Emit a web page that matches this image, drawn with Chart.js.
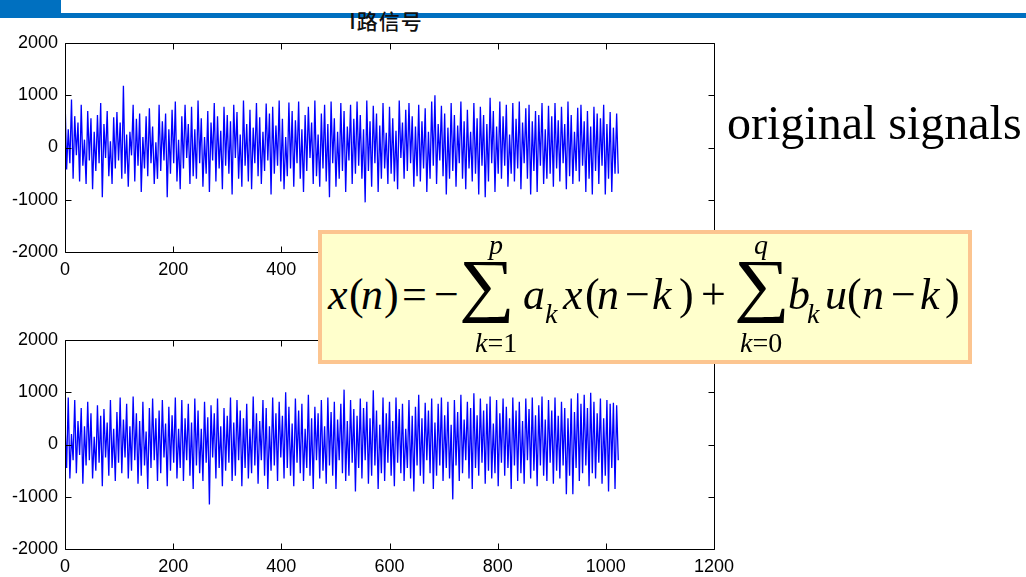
<!DOCTYPE html>
<html>
<head>
<meta charset="utf-8">
<script src="https://cdn.jsdelivr.net/npm/chart.js@4.4.1/dist/chart.umd.min.js"></script>
<style>
  body { margin: 0; width: 1026px; height: 577px; background: #fff; position: relative; overflow: hidden; }
  #barLeft { position: absolute; left: 0; top: 0; width: 61px; height: 18px; background: #0070c0; }
  #bar { position: absolute; left: 61px; top: 13px; width: 965px; height: 5px; background: #0070c0; }
  #title { position: absolute; left: 326px; width: 120px; top: 5px; text-align: center; font: 500 21px "Noto Sans CJK SC"; color: #111; letter-spacing: 1px; }
  .plot { position: absolute; left: 0; }
  #box { position: absolute; left: 318px; top: 230px; width: 646px; height: 126px; border: 4px solid #fcc590; background: #ffffcc; }
  #formula span { position: absolute; white-space: nowrap; line-height: 1; font-family: "Liberation Serif", "Times New Roman", serif; color: #000; transform-origin: 0 0; }
  #orig { position: absolute; left: 727px; top: 99px; font: 48px "Liberation Serif", serif; line-height: 1; color: #000; white-space: nowrap; }
</style>
</head>
<body>
<div id="barLeft"></div>
<div id="bar"></div>
<div id="title">I路信号</div>
<canvas id="topChart" class="plot" width="740" height="280" style="top:0"></canvas>
<canvas id="bottomChart" class="plot" width="740" height="287" style="top:290px"></canvas>
<div id="orig">original signals</div>
<div id="box"></div>
<div id="formula"></div>
<script>
const sampleStep = 3;
const xTicks = [0, 200, 400, 600, 800, 1000, 1200];
const yTicks = [-2000, -1000, 0, 1000, 2000];

// top signal, one value every 3 samples
const signalTop = [
  980, -420, 350, -300, 920, -600, 600, -150, 480, -650, 820, -350, 150, -700, 700, -250, 560, -800, 300, -450,
  620, -300, 850, -950, 450, -200, 700, -550, 120, -700, 580, -400, 680, -250, 480, -600, 1180, -500, 250, -750,
  300, -150, 820, -650, 550, -350, 650, -850, 200, -400, 600, -550, 750, -300, 400, -700, 100, -600, 820, -450,
  500, -250, 650, -950, 350, -500, 720, -300, 880, -650, 150, -800, 600, -400, 820, -200, 450, -700, 780, -550,
  350, -600, 900, -300, 560, -750, 200, -500, 700, -850, 480, -250, 850, -650, 600, -400, 320, -800, 780, -350,
  620, -500, 500, -900, 820, -200, 680, -600, 250, -750, 900, -350, 450, -650, 720, -800, 380, -300, 850, -550,
  580, -700, 300, -450, 840, -250, 650, -900, 780, -500, 420, -350, 900, -650, 550, -800, 200, -550, 860, -400,
  700, -750, 520, -300, 880, -600, 350, -850, 620, -450, 780, -200, 480, -700, 900, -550, 250, -750, 650, -400,
  820, -650, 450, -950, 880, -300, 560, -750, 300, -600, 850, -450, 700, -850, 400, -250, 820, -700, 550, -500,
  880, -350, 620, -600, 350, -1050, 900, -450, 500, -750, 800, -300, 650, -850, 420, -600, 850, -400, 280, -700,
  780, -500, 560, -650, 320, -800, 900, -200, 480, -600, 720, -450, 850, -300, 600, -750, 400, -550, 820, -650,
  500, -400, 750, -850, 300, -600, 880, -350, 1000, -700, 450, -250, 800, -550, 650, -900, 380, -600, 850, -450,
  620, -750, 420, -300, 880, -600, 500, -800, 720, -400, 300, -650, 850, -500, 560, -900, 780, -350, 620, -950,
  450, -650, 950, -300, 700, -850, 400, -500, 880, -600, 600, -350, 820, -750, 250, -500, 850, -650, 550, -400,
  880, -800, 480, -300, 750, -600, 820, -900, 500, -450, 700, -850, 620, -350, 850, -700, 350, -600, 800, -500,
  600, -750, 850, -400, 520, -650, 780, -300, 450, -800, 880, -550, 620, -700, 300, -450, 760, -650, 820, -350,
  500, -850, 700, -600, 400, -900, 780, -450, 650, -700, 560, -350, 820, -900, 450, -600, 680, -850, 380, -500,
  650, -500
];

// bottom signal, same sampling
const signalBottom = [
  380, -450, 900, -650, 200, -300, 850, -550, 450, -200, 700, -750, 350, -400, 820, -300, 600, -650, 150, -500,
  750, -350, 550, -800, 680, -250, 420, -600, 850, -450, 300, -700, 620, -350, 900, -550, 480, -250, 780, -650,
  350, -500, 920, -300, 600, -750, 450, -600, 820, -400, 250, -850, 700, -450, 880, -300, 500, -700, 650, -550,
  850, -250, 400, -800, 720, -500, 560, -350, 900, -650, 300, -450, 850, -700, 500, -300, 780, -600, 420, -850,
  880, -400, 650, -550, 300, -700, 820, -350, 520, -1150, 750, -250, 600, -650, 880, -450, 350, -800, 700, -500,
  550, -350, 900, -700, 420, -600, 850, -300, 650, -800, 500, -450, 780, -650, 300, -550, 920, -400, 600, -750,
  450, -300, 850, -600, 700, -850, 350, -500, 900, -400, 600, -700, 820, -250, 550, -650, 1000, -450, 720, -600,
  400, -800, 880, -350, 650, -550, 780, -700, 300, -450, 950, -600, 500, -850, 720, -300, 600, -650, 850, -500,
  350, -750, 900, -400, 620, -600, 820, -850, 480, -300, 780, -550, 1050, -700, 450, -600, 850, -350, 680, -900,
  550, -450, 880, -650, 700, -300, 820, -750, 500, -600, 1040, -400, 650, -850, 380, -550, 900, -700, 600, -350,
  820, -600, 450, -800, 900, -350, 680, -550, 780, -700, 300, -450, 850, -650, 550, -900, 720, -400, 950, -600,
  500, -750, 800, -300, 650, -550, 880, -850, 420, -600, 780, -400, 900, -700, 560, -450, 820, -650, 380, -1050,
  850, -400, 620, -700, 950, -550, 480, -300, 820, -650, 700, -850, 980, -450, 560, -600, 880, -350, 650, -750,
  780, -500, 920, -650, 400, -550, 850, -800, 600, -350, 880, -600, 720, -450, 500, -850, 900, -400, 650, -700,
  820, -550, 450, -750, 880, -300, 680, -650, 900, -500, 560, -800, 750, -400, 920, -600, 480, -700, 850, -350,
  650, -750, 900, -500, 550, -650, 820, -400, 700, -950, 500, -600, 880, -950, 620, -450, 980, -700, 780, -550,
  950, -400, 700, -800, 990, -550, 820, -650, 600, -350, 880, -750, 500, -600, 850, -900, 780, -450, 800, -850,
  750, -300
];

function toPoints(vals) {
  return vals.map((v, i) => ({ x: i * sampleStep, y: v }));
}

// MATLAB style box with inward ticks on all four sides
const matlabAxes = {
  id: "matlabAxes",
  afterDatasetsDraw(chart) {
    const { ctx, chartArea: a, scales } = chart;
    const l = Math.round(a.left) + 0.5, r = Math.round(a.right) + 0.5;
    const t = Math.round(a.top) + 0.5, b = Math.round(a.bottom) + 0.5;
    ctx.save();
    ctx.strokeStyle = "#000";
    ctx.lineWidth = 1;
    ctx.beginPath();
    ctx.rect(l, t, r - l, b - t);
    xTicks.forEach((v) => {
      const p = Math.round(scales.x.getPixelForValue(v)) + 0.5;
      ctx.moveTo(p, b); ctx.lineTo(p, b - 6);
      ctx.moveTo(p, t); ctx.lineTo(p, t + 6);
    });
    yTicks.forEach((v) => {
      const p = Math.round(scales.y.getPixelForValue(v)) + 0.5;
      ctx.moveTo(l, p); ctx.lineTo(l + 6, p);
      ctx.moveTo(r, p); ctx.lineTo(r - 6, p);
    });
    ctx.stroke();
    ctx.restore();
  },
};

function makeSignalChart(id, values, padTop, axisHeight) {
  return new Chart(document.getElementById(id), {
    type: "line",
    data: {
      datasets: [{
        data: toPoints(values),
        borderColor: "#0000ff",
        borderWidth: 1.3,
        pointRadius: 0,
        tension: 0,
        fill: false,
      }],
    },
    options: {
      responsive: false,
      animation: false,
      events: [],
      layout: { padding: { top: padTop, right: 26, left: 0, bottom: 0 } },
      plugins: { legend: { display: false }, tooltip: { enabled: false } },
      scales: {
        x: {
          type: "linear",
          min: 0,
          max: 1200,
          afterBuildTicks: (s) => { s.ticks = xTicks.map((v) => ({ value: v })); },
          afterFit: (s) => { s.height = axisHeight; },
          grid: { display: false },
          border: { display: false },
          ticks: { color: "#000", padding: -1, maxRotation: 0, callback: (v) => String(v),
                   font: { family: "Liberation Sans", size: 18 } },
        },
        y: {
          min: -2000,
          max: 2000,
          afterBuildTicks: (s) => { s.ticks = yTicks.map((v) => ({ value: v })); },
          afterFit: (s) => { s.width = 65; },
          grid: { display: false },
          border: { display: false },
          ticks: { color: "#000", padding: -1, callback: (v) => String(v),
                   font: { family: "Liberation Sans", size: 18 } },
        },
      },
    },
    plugins: [matlabAxes],
  });
}

makeSignalChart("topChart", signalTop, 43, 28);
makeSignalChart("bottomChart", signalBottom, 50, 28);

// formula pieces: [html, left, baseline, size, scaleX]
const formulaParts = [
  ["<i>x</i>", 328, 310, 44],
  ["(", 349, 310, 44],
  ["<i>n</i>", 361, 310, 44],
  [")", 384, 310, 44],
  ["=", 402, 310, 44],
  ["\u2212", 434, 310, 44],
  ["\u2211", 459, 309, 70, 1.12],
  ["<i>p</i>", 489, 254, 28],
  ["<i>k</i>=1", 475, 352, 28],
  ["<i>a</i>", 523, 310, 44],
  ["<i>k</i>", 545, 323, 28],
  ["<i>x</i>", 563, 310, 44],
  ["(", 585, 310, 44],
  ["<i>n</i>", 597, 310, 44],
  ["\u2212", 625, 310, 44],
  ["<i>k</i>", 652, 310, 44],
  [")", 679, 310, 44],
  ["+", 701, 310, 44],
  ["\u2211", 734, 309, 70, 1.12],
  ["<i>q</i>", 754, 254, 28],
  ["<i>k</i>=0", 740, 352, 28],
  ["<i>b</i>", 788, 310, 44],
  ["<i>k</i>", 807, 323, 28],
  ["<i>u</i>", 825, 310, 44],
  ["(", 847, 310, 44],
  ["<i>n</i>", 862, 310, 44],
  ["\u2212", 891, 310, 44],
  ["<i>k</i>", 920, 310, 44],
  [")", 945, 310, 44],
];
const formula = document.getElementById("formula");
formulaParts.forEach(([html, left, base, size, sx]) => {
  const s = document.createElement("span");
  s.innerHTML = html;
  s.style.left = left + "px";
  s.style.top = (base - 0.8375 * size) + "px";
  s.style.fontSize = size + "px";
  if (sx) s.style.transform = "scaleX(" + sx + ")";
  formula.appendChild(s);
});
</script>
</body>
</html>
